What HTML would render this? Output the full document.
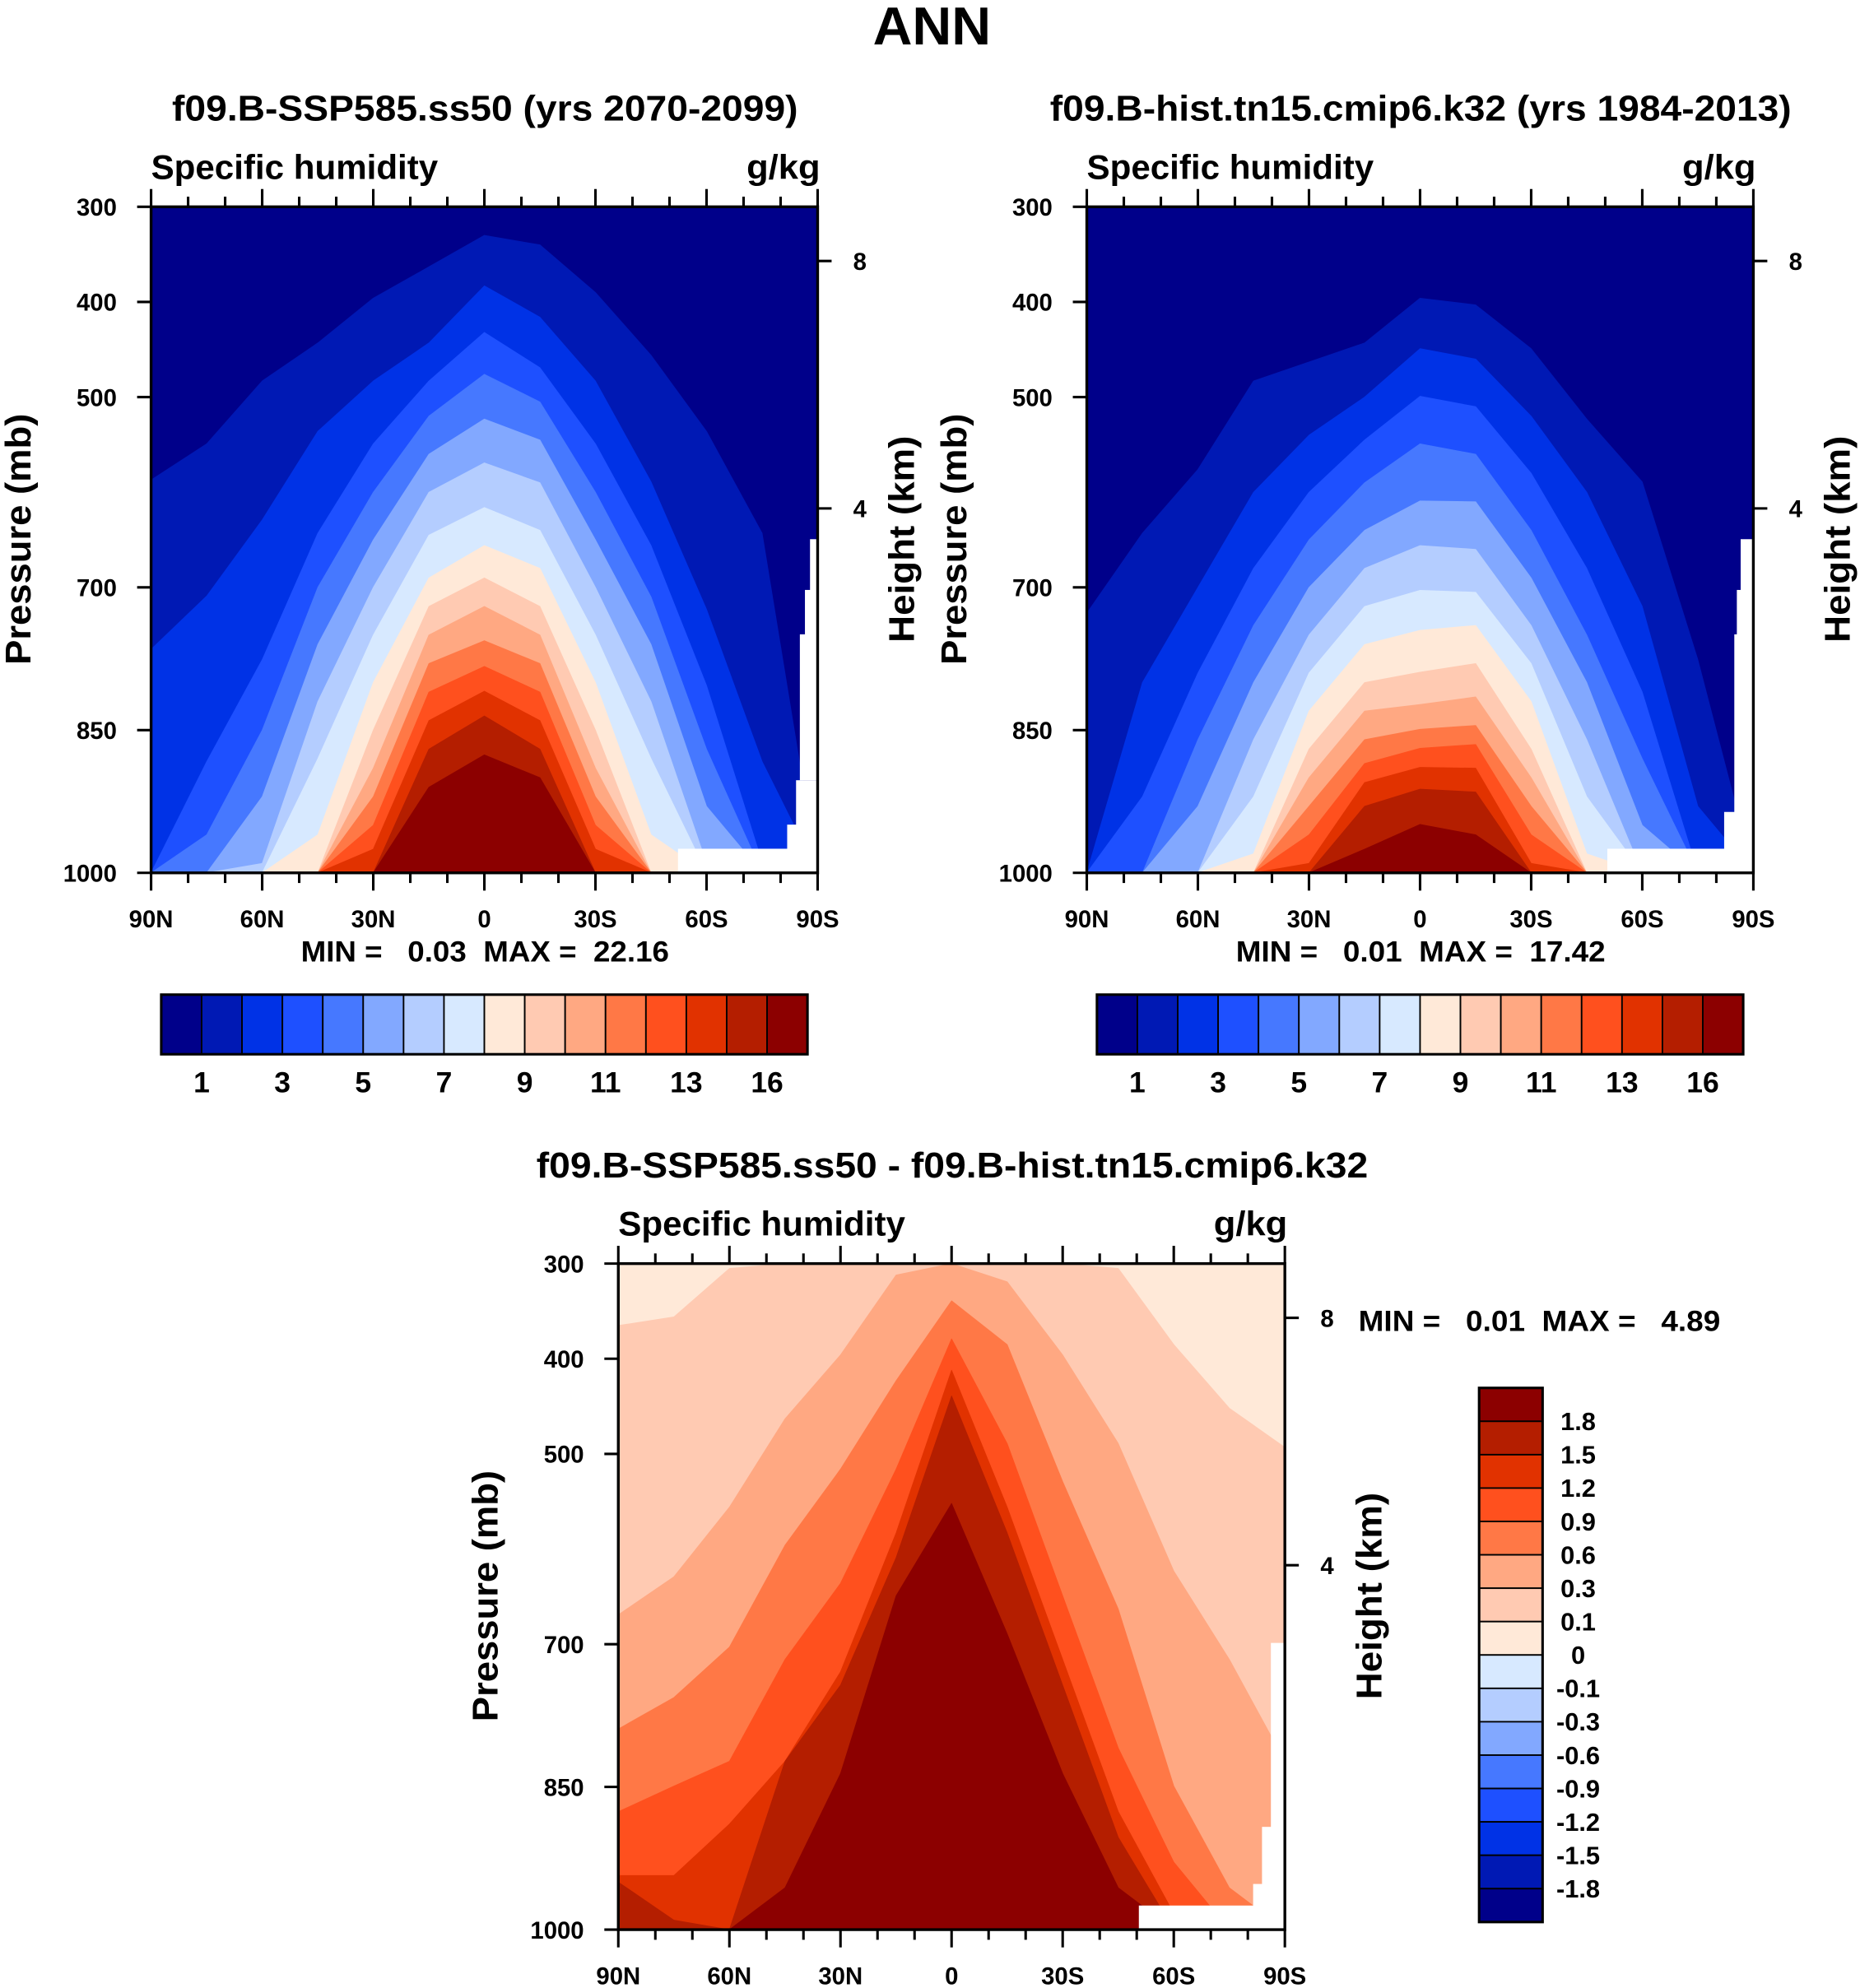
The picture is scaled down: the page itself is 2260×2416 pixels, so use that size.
<!DOCTYPE html>
<html><head><meta charset="utf-8"><style>
html,body{margin:0;padding:0;background:#fff;}
svg{display:block;}
text{font-family:"Liberation Sans",sans-serif;font-weight:bold;fill:#000;white-space:pre;}
</style></head><body>
<svg id="fig" xmlns="http://www.w3.org/2000/svg" width="2260" height="2416" viewBox="0 0 1465 1567" preserveAspectRatio="none">
<text x="734" y="35" font-size="42" text-anchor="middle" textLength="93" lengthAdjust="spacingAndGlyphs">ANN</text>
</svg>
<script>
// ---- data ----
const lats = [90,75,60,45,30,15,0,-15,-30,-45,-60,-75,-90];
const latTicks = [90,60,30,0,-30,-60,-90];
const latTickLabels = ["90N","60N","30N","0","30S","60S","90S"];
const presTicks = [300,400,500,700,850,1000];
const heightTicks = [8,4];
const heightTickPres = [357,617];
const qColors = ["#00008a","#0019b4","#0032e6","#1e50ff","#4678ff","#82a8ff","#b4cdff","#d7e9ff","#ffe9d8","#ffcab2","#ffa882","#ff7846","#ff501e","#e13200","#b41e00","#8c0000"];
const qBarLabels = ["1","3","5","7","9","11","13","16"];
const diffBarLabels = ["1.8","1.5","1.2","0.9","0.6","0.3","0.1","0","-0.1","-0.3","-0.6","-0.9","-1.2","-1.5","-1.8"];
// future (SSP585) edge pressures, one array per contour level
const futE1 = [587,549,483,443,396,363,330,340,390,456,536,643,1000];
const futE2 = [765,709,629,536,483,443,383,416,483,589,723,883,1000];
const futE3 = [1000,883,776,643,549,483,432,469,549,656,803,989,1000];
const futE4 = [1000,960,850,700,600,520,476,505,600,710,870,1000,1000];
const futE5 = [1000,1000,920,760,650,560,523,545,650,760,930,1000,1000];
const futE6 = [1000,1000,990,820,700,600,569,590,700,820,990,1000,1000];
const futE7 = [1000,1000,1000,880,750,645,616,640,750,880,1000,1000,1000];
const futE8 = [1000,1000,1000,960,800,690,656,680,800,960,1000,1000,1000];
const futE9 = [1000,1000,1000,1000,850,720,690,720,850,1000,1000,1000,1000];
const futE10 = [1000,1000,1000,1000,890,750,720,750,890,1000,1000,1000,1000];
const futE11 = [1000,1000,1000,1000,920,780,756,780,920,1000,1000,1000,1000];
const futE12 = [1000,1000,1000,1000,950,810,783,810,950,1000,1000,1000,1000];
const futE13 = [1000,1000,1000,1000,975,840,809,840,975,1000,1000,1000,1000];
const futE14 = [1000,1000,1000,1000,1000,870,835,870,1000,1000,1000,1000,1000];
const futE15 = [1000,1000,1000,1000,1000,910,876,900,1000,1000,1000,1000,1000];
// historical edge pressures
const hisE1 = [727,643,576,483,463,443,396,403,449,523,589,776,1000];
const hisE2 = [1000,800,700,600,540,500,449,460,520,600,720,930,1000];
const hisE3 = [1000,920,790,680,600,545,499,510,580,680,810,1000,1000];
const hisE4 = [1000,1000,860,740,650,590,549,560,640,750,880,1000,1000];
const hisE5 = [1000,1000,930,800,700,640,609,610,690,800,950,1000,1000];
const hisE6 = [1000,1000,1000,860,750,680,656,660,740,860,1000,1000,1000];
const hisE7 = [1000,1000,1000,920,790,720,703,705,780,920,1000,1000,1000];
const hisE8 = [1000,1000,1000,980,830,760,745,740,820,980,1000,1000,1000];
const hisE9 = [1000,1000,1000,1000,870,800,789,780,870,1000,1000,1000,1000];
const hisE10 = [1000,1000,1000,1000,900,830,823,815,900,1000,1000,1000,1000];
const hisE11 = [1000,1000,1000,1000,930,860,849,845,930,1000,1000,1000,1000];
const hisE12 = [1000,1000,1000,1000,960,885,869,865,960,1000,1000,1000,1000];
const hisE13 = [1000,1000,1000,1000,990,905,889,890,990,1000,1000,1000,1000];
const hisE14 = [1000,1000,1000,1000,1000,930,912,915,1000,1000,1000,1000,1000];
const hisE15 = [1000,1000,1000,1000,1000,975,949,960,1000,1000,1000,1000,1000];
// difference edge pressures (levels 0.1,0.3,0.6,0.9,1.2,1.5,1.8)
const difE1 = [365,356,305,300,300,300,300,300,300,305,385,452,493];
const difE2 = [669,629,556,463,396,312,300,319,396,489,623,716,823];
const difE3 = [789,756,703,596,516,423,339,385,529,663,849,956,1000];
const difE4 = [876,849,823,716,636,516,379,489,649,809,929,1000,1000];
const difE5 = [943,943,889,823,729,583,412,556,716,876,983,1000,1000];
const difE6 = [950,990,1000,823,743,609,439,583,743,903,1000,1000,1000];
const difE7 = [1000,1000,1000,956,836,649,552,689,836,956,1000,1000,1000];

const NS="http://www.w3.org/2000/svg";
const svg=document.getElementById('fig');
function mk(tag,attrs,parent){const e=document.createElementNS(NS,tag);for(const k in attrs)e.setAttribute(k,attrs[k]);(parent||svg).appendChild(e);return e;}
function txt(s,x,y,size,anchor,parent,len){const a={x:x,y:y,'font-size':size,'text-anchor':anchor||'start'};
  if(len){a.textLength=len;a.lengthAdjust='spacingAndGlyphs';}
  const t=mk('text',a,parent);t.textContent=s;return t;}

function panel(id,x0,y0,bg,edges,colors,masks,pOff,hOff){
  const W=525,H=525;
  const X=lat=>x0+(90-lat)/180*W;
  const Y=p=>y0+(p-300)/700*H;
  const g=mk('g',{});
  
  
  const cp=mk('clipPath',{id:id+'-clip'},g);
  mk('rect',{x:x0,y:y0,width:W,height:H},cp);
  const area=mk('g',{'clip-path':'url(#'+id+'-clip)'},g);
  const b=mk('rect',{x:x0,y:y0,width:W,height:H,fill:bg},area);
  
  
  edges.forEach((arr,i)=>{
    let pts=lats.map((la,j)=>X(la).toFixed(1)+','+Y(arr[j]).toFixed(1));
    pts.push(X(-90)+','+Y(1001),X(90)+','+Y(1001));
    const pg=mk('polygon',{points:pts.join(' '),fill:colors[i],stroke:colors[i],'stroke-width':0.5,'stroke-linejoin':'round'},area);
    
    
  });
  masks.forEach(m=>{const r=mk('rect',{x:m[0],y:m[1],width:m[2],height:m[3],fill:'#fff'},area);
    
    });
  const frame=mk('rect',{x:x0,y:y0,width:W,height:H,fill:'none',stroke:'#000','stroke-width':2.2},g);
  
  
  for(let la=90;la>=-90;la-=10){
    const major=la%30===0;const L=major?14:8;const x=X(la);
    mk('line',{x1:x,y1:y0+H,x2:x,y2:y0+H+L,stroke:'#000','stroke-width':2},g);
    mk('line',{x1:x,y1:y0,x2:x,y2:y0-L,stroke:'#000','stroke-width':2},g);
  }
  latTicks.forEach((la,i)=>{const t=txt(latTickLabels[i],X(la),y0+H+43,19,'middle',g);
    
    });
  presTicks.forEach(p=>{const y=Y(p);
    mk('line',{x1:x0-11,y1:y,x2:x0,y2:y,stroke:'#000','stroke-width':2},g);
    const t=txt(String(p),x0-27,y+7,19,'end',g);
    
    });
  heightTicks.forEach((h,i)=>{const y=Y(heightTickPres[i]);
    mk('line',{x1:x0+W,y1:y,x2:x0+W+11,y2:y,stroke:'#000','stroke-width':2},g);
    const t=txt(String(h),x0+W+28,y+7,19,'start',g);
    
    });
  let t=txt('Specific humidity',x0,y0-22,27,'start',g,226);
  
  
  t=txt('g/kg',x0+W+2,y0-22,27,'end',g,58);
  
  
  t=txt('Pressure (mb)',0,0,28,'middle',g,198);
  t.setAttribute('transform','translate('+(x0-pOff)+','+(y0+262)+') rotate(-90)');
  
  
  t=txt('Height (km)',0,0,28,'middle',g,163);
  t.setAttribute('transform','translate('+(x0+W+hOff)+','+(y0+262)+') rotate(-90)');
  
  
}

const futEdges=[futE1,futE2,futE3,futE4,futE5,futE6,futE7,futE8,futE9,futE10,futE11,futE12,futE13,futE14,futE15];
const hisEdges=[hisE1,hisE2,hisE3,hisE4,hisE5,hisE6,hisE7,hisE8,hisE9,hisE10,hisE11,hisE12,hisE13,hisE14,hisE15];
const difEdges=[difE1,difE2,difE3,difE4,difE5,difE6,difE7];

panel('future',119,163,qColors[0],futEdges,qColors.slice(1),
  [[534,669,120,30],[638,425,10,45],[634,465,14,40],[630,500,18,115],[627,615,20,40],[620,650,30,40]],95,76);
panel('historical',856,163,qColors[0],hisEdges,qColors.slice(1),
  [[1266,669,120,30],[1371,425,14,45],[1368,465,16,40],[1366,500,18,160],[1358,640,30,50]],95,76);
panel('difference',487,996,qColors[8],difEdges,qColors.slice(9),
  [[897,1502,120,30],[1001,1295,15,150],[994,1440,20,50],[987,1485,30,30]],95,76);

function titleT(s,x,y,len,name){const t=txt(s,x,y,28,'middle',null,len);}
titleT('f09.B-SSP585.ss50 (yrs 2070-2099)',382,95,493,'future-panel-title');
titleT('f09.B-hist.tn15.cmip6.k32 (yrs 1984-2013)',1119,95,584,'historical-panel-title');
titleT('f09.B-SSP585.ss50 - f09.B-hist.tn15.cmip6.k32',750,928,655,'difference-panel-title');
function statT(s,x,y,a,len,name){const t=txt(s,x,y,23,a,null,len);}
statT('MIN =   0.03  MAX =  22.16',382,758,'middle',290,'future-min-max');
statT('MIN =   0.01  MAX =  17.42',1119,758,'middle',291,'historical-min-max');
statT('MIN =   0.01  MAX =   4.89',1070,1049,'start',285,'difference-min-max');

function hbar(id,x0){
  const y0=784,w=509/16,h=47;
  qColors.forEach((c,i)=>{const r=mk('rect',{x:x0+i*w,y:y0,width:w,height:h,fill:c,stroke:'#000','stroke-width':1.2});
    
    });
  mk('rect',{x:x0,y:y0,width:509,height:h,fill:'none',stroke:'#000','stroke-width':2});
  qBarLabels.forEach((s,i)=>{const t=txt(s,x0+(2*i+1)*w,y0+77,23,'middle');
    
    });
}
hbar('future',127);hbar('historical',864);
(function(){
  const x0=1165,y0=1094,w=50,h=421/16;
  const rev=qColors.slice().reverse();
  rev.forEach((c,i)=>{const r=mk('rect',{x:x0,y:y0+i*h,width:w,height:h,fill:c,stroke:'#000','stroke-width':1.2});
    
    });
  mk('rect',{x:x0,y:y0,width:w,height:421,fill:'none',stroke:'#000','stroke-width':2});
  diffBarLabels.forEach((s,i)=>{const t=txt(s,1243,y0+(i+1)*h+7,20,'middle');
    
    });
})();
</script>
</body></html>
